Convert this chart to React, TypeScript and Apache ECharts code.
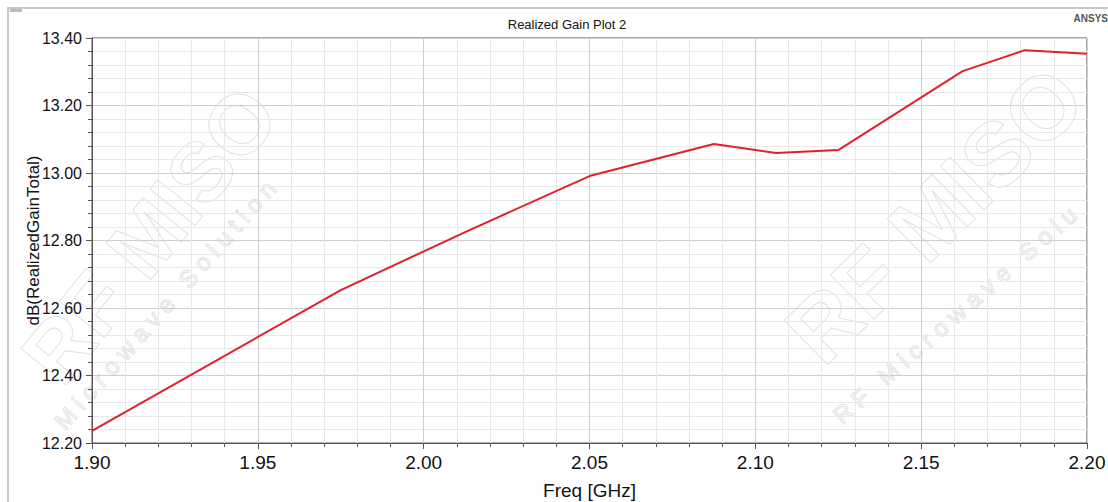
import React, { useEffect, useRef } from "react";
import * as echarts from "echarts";

const freqGHz = [1.9, 1.975, 2.0125, 2.05, 2.0875, 2.10625, 2.125, 2.1625, 2.18125, 2.2];
const gainDb = [12.236, 12.653, 12.825, 12.991, 13.086, 13.059, 13.068, 13.302, 13.364, 13.353];
const chartTitle = "Realized Gain Plot 2";
const xName = "Freq [GHz]";
const yName = "dB(RealizedGainTotal)";

const FONT = "'Liberation Sans', Arial, sans-serif";

export default function App() {
  const ref = useRef<HTMLDivElement>(null);
  useEffect(() => {
    if (!ref.current) return;
    const chart = echarts.init(ref.current, null, { renderer: "svg" });
    const wm = { fill: "none", stroke: "#e2e2e2", lineWidth: 1 };
    chart.setOption({
      animation: false,
      backgroundColor: "#ffffff",
      title: {
        text: chartTitle,
        left: 562,
        textAlign: "center",
        top: 13,
        textStyle: { fontFamily: FONT, fontSize: 13, fontWeight: "normal", color: "#111" },
      },
      graphic: [
        { type: "rect", shape: { x: 8, y: 8, width: 1200, height: 600 }, style: { fill: "none", stroke: "#c8c8c8", lineWidth: 2 }, silent: true, z: -10 },
        { type: "rect", shape: { x: 10, y: 9, width: 12, height: 3 }, style: { fill: "#bbbbbb" }, silent: true },
        { type: "text", x: 150, y: 235, rotation: 0.89, style: { text: "RF MISO", font: `bold 84px ${FONT}`, align: "center", verticalAlign: "middle", ...wm }, silent: true, z: -5 },
        { type: "text", x: 165, y: 305, rotation: 0.85, style: { text: "M i c r o w a v e   S o l u t i o n", font: `24px ${FONT}`, align: "center", verticalAlign: "middle", ...wm }, silent: true, z: -5 },
        { type: "text", x: 935, y: 215, rotation: 0.78, style: { text: "RF MISO", font: `bold 90px ${FONT}`, align: "center", verticalAlign: "middle", ...wm }, silent: true, z: -5 },
        { type: "text", x: 955, y: 315, rotation: 0.72, style: { text: "R F   M i c r o w a v e   S o l u", font: `24px ${FONT}`, align: "center", verticalAlign: "middle", ...wm }, silent: true, z: -5 },
        { type: "text", x: 1108, y: 18, style: { text: "ANSYS", font: `bold 10px ${FONT}`, align: "right", verticalAlign: "middle", fill: "#555" }, silent: true },
      ],
      grid: {
        left: 92,
        right: 21,
        top: 38,
        bottom: 59,
        outerBoundsMode: "none",
        containLabel: false,
        show: true,
        borderColor: "#555",
        borderWidth: 1,
        backgroundColor: "transparent",
      },
      xAxis: {
        type: "value",
        min: 1.9,
        max: 2.2,
        interval: 0.05,
        name: xName,
        nameLocation: "middle",
        nameGap: 38,
        nameMoveOverlap: false,
        nameTextStyle: { fontFamily: FONT, fontSize: 19, color: "#111" },
        axisLine: { show: true, onZero: false, lineStyle: { color: "#555", width: 1 } },
        axisTick: { show: true, length: 6, lineStyle: { color: "#555" } },
        minorTick: { show: true, splitNumber: 5, length: 4, lineStyle: { color: "#555" } },
        axisLabel: {
          fontFamily: FONT,
          fontSize: 19,
          color: "#111",
          margin: 10,
          formatter: (v: number) => v.toFixed(2),
        },
        splitLine: { show: true, lineStyle: { color: "#cfcfcf", width: 1 } },
        minorSplitLine: { show: true, lineStyle: { color: "#e8e8e8", width: 1 } },
      },
      yAxis: {
        type: "value",
        min: 12.2,
        max: 13.4,
        interval: 0.2,
        name: yName,
        nameLocation: "middle",
        nameGap: 50,
        nameMoveOverlap: false,
        nameTextStyle: { fontFamily: FONT, fontSize: 17, color: "#111" },
        axisLine: { show: true, lineStyle: { color: "#555", width: 1 } },
        axisTick: { show: true, length: 6, lineStyle: { color: "#555" } },
        minorTick: { show: true, splitNumber: 5, length: 4, lineStyle: { color: "#555" } },
        axisLabel: {
          fontFamily: FONT,
          fontSize: 16,
          color: "#111",
          margin: 10,
          formatter: (v: number) => v.toFixed(2),
        },
        splitLine: { show: true, lineStyle: { color: "#cfcfcf", width: 1 } },
        minorSplitLine: { show: true, lineStyle: { color: "#e8e8e8", width: 1 } },
      },
      series: [
        {
          type: "line",
          data: freqGHz.map((f, i) => [f, gainDb[i]]),
          showSymbol: false,
          symbol: "none",
          lineStyle: { color: "#e0202a", width: 2 },
          z: 5,
        },
      ],
    });
    return () => chart.dispose();
  }, []);
  return (
    <div
      ref={ref}
      style={{ position: "fixed", left: 0, top: 0, width: 1108, height: 502 }}
    />
  );
}
